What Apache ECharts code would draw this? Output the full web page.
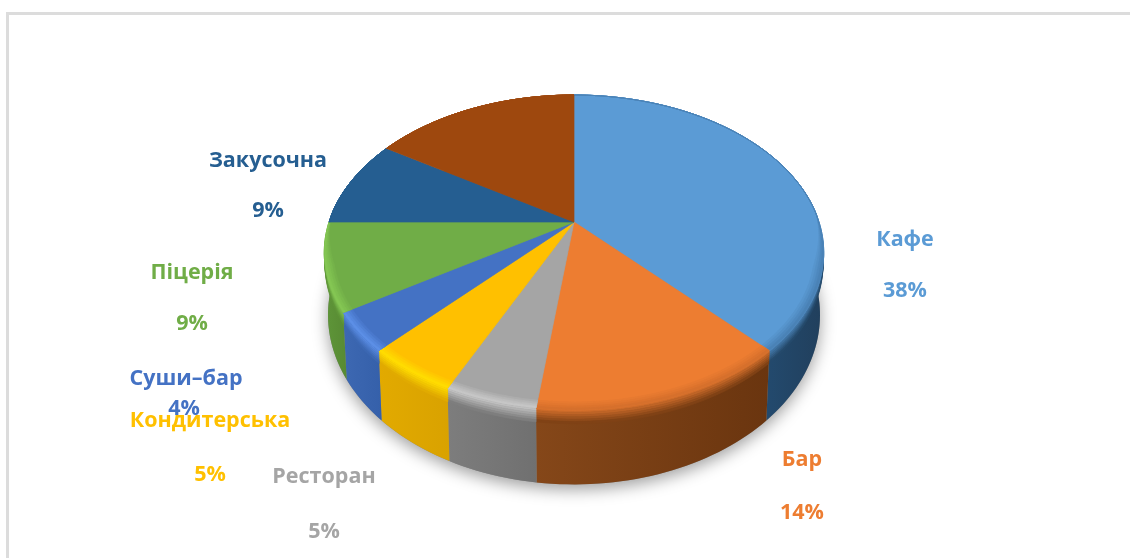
<!DOCTYPE html>
<html>
<head>
<meta charset="utf-8">
<style>html,body{margin:0;padding:0;background:#fff}#chart{width:1130px;height:558px}</style>
<script src="https://cdn.jsdelivr.net/npm/echarts@6/dist/echarts.min.js"></script>
</head>
<body>
<div id="chart"></div>
<script>
// Shares of establishment types, percent, clockwise from twelve o'clock.
const categories = ['Кафе', 'Бар', 'Ресторан', 'Кондитерська', 'Суши–бар', 'Піцерія', 'Закусочна', ''];
const shares = [38, 14, 5, 5, 4, 9, 9, 16];

// Slice palette: face, wall (left to right) and the lit bevel between them.
const faceColors = ['#5b9bd5', '#ed7d31', '#a5a5a5', '#ffc000', '#4472c4', '#70ad47', '#255e91', '#9e480e'];
const wallLeft = ['#234a6e', '#854719', '#7d7d7d', '#e2aa00', '#3d68b2', '#5f9639', '#1c4a70', '#6e320a'];
const wallRight = ['#213f5c', '#6a350f', '#707070', '#d9a200', '#3560aa', '#578a33', '#1c4a70', '#6e320a'];
const bevelColors = ['#4a82b6', '#d6702c', '#c6c6c6', '#ffdc00', '#5c8fe6', '#84c653', '#255e91', '#9e480e'];

// Label anchors [nameX, nameY, valueX, valueY]; the last slice carries no label.
const labelAnchors = [
  [905, 240, 905, 291], [802, 460, 802, 513], [324, 477, 324, 532],
  [210, 421, 210, 475], [186, 379, 184, 409], [192, 273, 192, 324],
  [268, 161, 268, 211], null
];

// Tilted disc: perspective projection of a unit circle onto the page.
const disc = { cx: 574, cy: 222, rx: 245, ry: 151.6, k: 0.1937, depth: 60 };
const BEVEL_DEPTH = 11, BEVEL_STEPS = 6, RIM = 0.035;
const total = shares.reduce((a, b) => a + b, 0);
const starts = shares.map((_, i) => shares.slice(0, i).reduce((a, b) => a + b, 0));

function project(deg, r, dz) {
  const a = deg * Math.PI / 180;
  const x = Math.sin(a) * r, y = -Math.cos(a) * r;
  const w = 1 - disc.k * y;
  const sx = disc.rx * x / w * (1 - 0.015 * dz / disc.depth);
  return [disc.cx + sx, disc.cy + disc.ry * y / w + dz / w];
}
function arc(from, to, r, dz) {
  const pts = [], n = Math.max(2, Math.ceil(Math.abs(to - from) / 1.5));
  for (let i = 0; i <= n; i++) pts.push(project(from + (to - from) * i / n, r, dz));
  return pts;
}
function mix(c1, c2, t) {
  const p = c => [1, 3, 5].map(i => parseInt(c.substr(i, 2), 16));
  const a = p(c1), b = p(c2);
  return '#' + a.map((v, i) => Math.round(v + (b[i] - v) * t).toString(16).padStart(2, '0')).join('');
}
const poly = (points, style) => ({ type: 'polygon', shape: { points }, style });
const solid = (points, color) => poly(points, { fill: color, stroke: color, lineWidth: 0.7 });

// Side wall of one slice, with a soft shoulder where it meets the face.
function renderWall(params, api) {
  const i = params.dataIndex;
  const from = Math.max(api.value(1) / total * 360, 75);
  const to = Math.min((api.value(1) + api.value(0)) / total * 360, 285);
  const children = [];
  if (i === 0) {
    children.push(poly(arc(0, 360, 1, disc.depth), {
      fill: '#8a8a8a', shadowBlur: 16, shadowColor: 'rgba(0,0,0,0.38)', shadowOffsetY: 5
    }));
  }
  if (to <= from) return { type: 'group', children };
  children.push(poly(arc(from, to, 1, 0).concat(arc(to, from, 1, disc.depth)), {
    fill: new echarts.graphic.LinearGradient(0, 0, 1, 0, [
      { offset: 0, color: wallLeft[i] },
      { offset: 1, color: wallRight[i] }
    ])
  }));
  const base = mix(wallLeft[i], wallRight[i], 0.5);
  for (let s = 0; s < BEVEL_STEPS; s++) {
    const z0 = BEVEL_DEPTH * s / BEVEL_STEPS, z1 = BEVEL_DEPTH * (s + 1) / BEVEL_STEPS;
    const band = arc(from, to, 1, z0).concat(arc(to, from, 1, z1));
    children.push(solid(band, mix(bevelColors[i], base, (s + 0.5) / BEVEL_STEPS)));
  }
  return { type: 'group', children };
}

// Flat top of one slice plus its rim band, which tapers away towards the back.
function renderFace(params, api) {
  const i = params.dataIndex;
  const from = api.value(1) / total * 360;
  const to = (api.value(1) + api.value(0)) / total * 360;
  const children = [solid([project(0, 0, 0)].concat(arc(from, to, 1, 0)), faceColors[i])];
  const taper = deg => Math.max(0, Math.min(1, (-Math.cos(deg * Math.PI / 180) + 0.05) * 3));
  const rimArc = (a, b, level) => {
    const pts = [], n = Math.max(2, Math.ceil(Math.abs(b - a) / 1.5));
    for (let j = 0; j <= n; j++) {
      const deg = a + (b - a) * j / n;
      pts.push(project(deg, 1 - RIM * level * taper(deg), 0));
    }
    return pts;
  };
  for (let s = 0; s < 4; s++) {
    const band = rimArc(from, to, 1 - s / 4).concat(rimArc(to, from, 1 - (s + 1) / 4));
    children.push(solid(band, mix(faceColors[i], bevelColors[i], (s + 1) / 4)));
  }
  return { type: 'group', children };
}

function renderLabel(params, api) {
  const i = params.dataIndex, at = labelAnchors[i];
  if (!at) return { type: 'group', children: [] };
  const text = (t, x, y) => ({
    type: 'text',
    style: {
      x, y, text: t, fill: faceColors[i], align: 'center', verticalAlign: 'middle',
      font: 'bold 21.5px "Open Sans"'
    }
  });
  return {
    type: 'group',
    children: [text(categories[i], at[0], at[1]), text(api.value(0) + '%', at[2], at[3])]
  };
}

const rows = shares.map((v, i) => ({ name: categories[i], value: [v, starts[i]] }));
const layer = (renderItem, z) => ({
  type: 'custom', coordinateSystem: 'none', renderItem, data: rows, z, silent: true, animation: false
});

echarts.init(document.getElementById('chart')).setOption({
  backgroundColor: '#ffffff',
  animation: false,
  graphic: [
    { type: 'rect', shape: { x: 6, y: 12, width: 1124, height: 3 }, style: { fill: '#dcdcdc' }, silent: true },
    { type: 'rect', shape: { x: 6, y: 12, width: 3, height: 546 }, style: { fill: '#dcdcdc' }, silent: true }
  ],
  series: [layer(renderWall, 1), layer(renderFace, 2), layer(renderLabel, 3)]
});
</script>
</body>
</html>
